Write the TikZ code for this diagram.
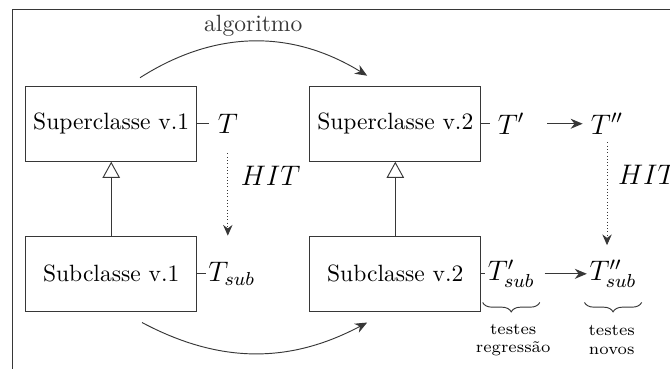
\documentclass[tikz,border=0pt]{standalone}
\usepackage{amsmath}
\usepackage{xcolor}
\usepackage{tikz}
\usetikzlibrary{arrows.meta,decorations.pathreplacing}
\definecolor{scanGray}{RGB}{55,55,55}

\begin{document}
\begin{tikzpicture}[
  cls/.style={draw=scanGray, thin, minimum width=2.55cm, minimum height=1.12cm, inner sep=2pt},
  tset/.style={font=\fontsize{11.5pt}{14pt}\selectfont},
  tsub/.style={tset, inner sep=1pt},
  lbl/.style={font=\scriptsize, align=center, inner sep=0pt},
  tie/.style={draw=scanGray, thin},
  arr/.style={-{Stealth[length=1.8mm,width=1.5mm]}, thin, scanGray},
  hit/.style={-{Stealth[length=1.6mm,width=1.4mm]}, thin, densely dotted, scanGray},
  inh/.style={-{Triangle[open,length=2.4mm,width=2.6mm]}, thin, scanGray},
  brc/.style={draw=scanGray, thin, decorate, decoration={brace, amplitude=4pt}}
]

\useasboundingbox (0,0) rectangle (10,5.507);
\clip (0,0) rectangle (10,5.507);
\draw[scanGray] (0.18,0) |- (10,5.37);

\node[cls] (sup1) at (1.66,3.66) {Superclasse v.1};
\node[cls] (sup2) at (5.90,3.66) {Superclasse v.2};
\node[cls] (sub1) at (1.66,1.42) {Subclasse v.1};
\node[cls] (sub2) at (5.90,1.42) {Subclasse v.2};

\node[tset] (t1) at (3.40,3.66) {$T$};
\node[tset] (t2) at (7.63,3.66) {$T'$};
\node[tset] (t3) at (9.06,3.66) {$T''$};
\node[tsub] (t1sub) at (3.46,1.42) {$T_{sub}$};
\node[tsub] (t2sub) at (7.63,1.42) {$T'_{sub}$};
\node[tsub] (t3sub) at (9.15,1.42) {$T''_{sub}$};

\node[tset] (hit1) at (4.04,2.88) {$HIT$};
\node[tset] (hit2) at (9.67,2.90) {$HIT$};

\node[lbl] (reg) at (7.66,0.43) {testes\\regressão};
\node[lbl] (nov) at (9.13,0.43) {testes\\novos};

\coordinate (a1) at ([xshift=0.43cm,yshift=0.12cm]sup1.north);
\coordinate (a2) at ([xshift=-0.42cm,yshift=0.15cm]sup2.north);
\coordinate (b1) at ([xshift=0.46cm,yshift=-0.16cm]sub1.south);
\coordinate (b2) at ([xshift=-0.42cm,yshift=-0.16cm]sub2.south);

\draw[tie] (sup1.east) -- (t1.west);
\draw[tie] (sup2.east) -- (t2.west);
\draw[tie] (sub1.east) -- (t1sub.west);
\draw[tie] (sub2.east) -- (t2sub.west);

\draw[arr, shorten <=6pt] (t2) -- (t3);
\draw[arr, shorten <=3pt] (t2sub) -- (t3sub);
\draw[hit, shorten <=5pt, shorten >=10pt] (t1.south) -- (t1.south |- t1sub.north);
\draw[hit, shorten >=5pt] (t3.south) -- (t3.south |- t3sub.north);

\draw[inh] (sub1.north) -- (sup1.south);
\draw[inh] (sub2.north) -- (sup2.south);

\draw[arr] (a1) to[bend left=32] node[above, inner sep=2pt] (alg) {algoritmo} (a2);
\draw[arr] (b1) to[bend right=28] (b2);

\draw[brc] ([xshift=1pt,yshift=-5pt]t2sub.south east) -- ([xshift=-1pt,yshift=-5pt]t2sub.south west);
\draw[brc] ([xshift=1pt,yshift=-5pt]t3sub.south east) -- ([xshift=-1pt,yshift=-5pt]t3sub.south west);

\end{tikzpicture}
\end{document}
